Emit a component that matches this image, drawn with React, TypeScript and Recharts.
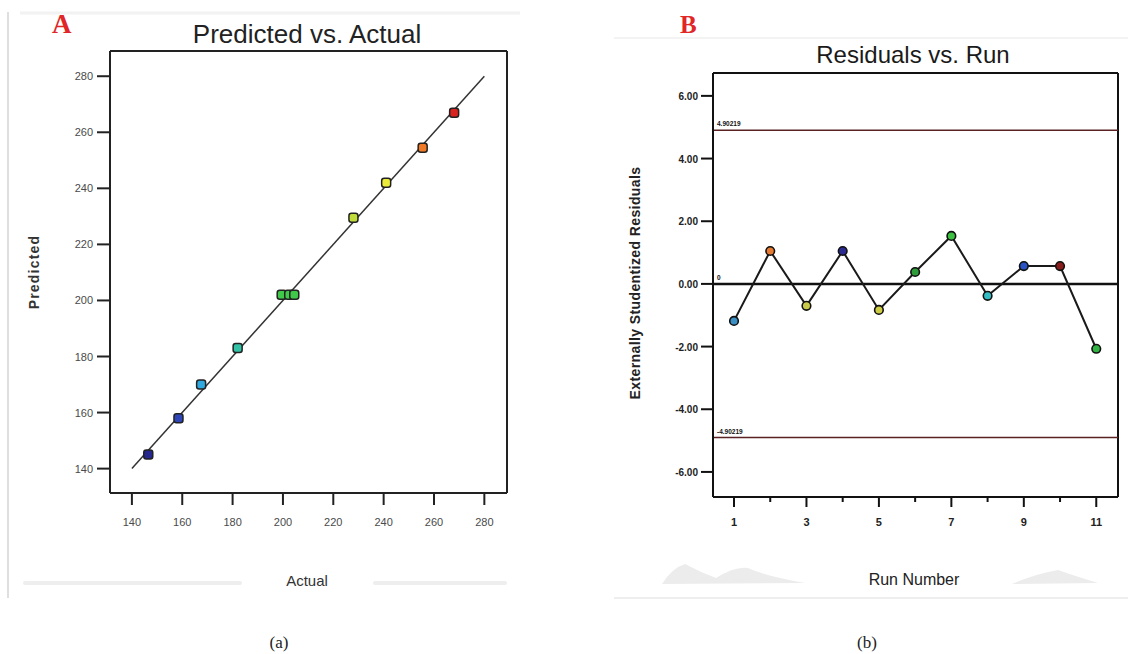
import React from 'react';
import {
  ScatterChart,
  Scatter,
  XAxis,
  YAxis,
  ReferenceLine,
  LineChart,
  Line,
  Cell,
} from 'recharts';

// ---------- Panel A data: Predicted vs. Actual ----------
const actualValues = [146.5, 158.5, 167.5, 182, 199.5, 202.5, 204.5, 228, 241, 255.5, 268];
const predictedValues = [145, 158, 170, 183, 202, 202, 202, 229.5, 242, 254.5, 267];
const axisTicksA = [140, 160, 180, 200, 220, 240, 260, 280];
const fitLineEnds = [140, 280];

// ---------- Panel B data: Residuals vs. Run ----------
const runNumbers = [1, 2, 3, 4, 5, 6, 7, 8, 9, 10, 11];
const residualValues = [-1.18, 1.05, -0.7, 1.05, -0.83, 0.38, 1.53, -0.38, 0.57, 0.57, -2.07];
const residualTicks = [-6, -4, -2, 0, 2, 4, 6];
const runTicks = [1, 2, 3, 4, 5, 6, 7, 8, 9, 10, 11];
const limitValue = 4.90219;
const limitLabels = ['4.90219', '-4.90219', '0'];

// ---------- styles ----------
const colorsA = ['#26268f', '#2e46b8', '#2fa9e0', '#33c2a6', '#3fc84a', '#3fc84a', '#3fc84a', '#bfdc3a', '#ecec3a', '#f07a26', '#d8231f'];
const colorsB = ['#3a90c4', '#e57a30', '#c9c94a', '#2a2a90', '#cccc44', '#2f9c3a', '#3cc040', '#34bcc4', '#2b52c4', '#8a1c1c', '#32b444'];

const domainA: [number, number] = [131.3, 289];
const domainBX: [number, number] = [0.42, 11.6];
const domainBY: [number, number] = [-6.8, 6.73];

const SANS = '"Liberation Sans", Arial, sans-serif';
const SERIF = '"Liberation Serif", "Times New Roman", serif';

const dataA = actualValues.map((a, i) => ({ actual: a, predicted: predictedValues[i] }));
const dataB = runNumbers.map((r, i) => ({ run: r, residual: residualValues[i] }));

const TickAX = (props: any) => {
  const { x, y, payload } = props;
  return (
    <g>
      <line x1={x} x2={x} y1={y + 1} y2={y + 12} stroke="#222" strokeWidth={2} />
      <text x={x} y={y + 33} textAnchor="middle" fontSize={11} style={{ fill: '#4a4a4a' }} fontFamily={SANS}>
        {payload.value}
      </text>
    </g>
  );
};

const TickAY = (props: any) => {
  const { x, y, payload } = props;
  return (
    <g>
      <line x1={x - 1} x2={x - 13} y1={y} y2={y} stroke="#222" strokeWidth={2} />
      <text x={x - 17} y={y + 4} textAnchor="end" fontSize={11} style={{ fill: '#4a4a4a' }} fontFamily={SANS}>
        {payload.value}
      </text>
    </g>
  );
};

const TickBX = (props: any) => {
  const { x, y, payload } = props;
  const major = payload.value % 2 === 1;
  return (
    <g>
      <line x1={x} x2={x} y1={y + 1} y2={y + (major ? 10 : 5)} stroke="#111" strokeWidth={2} />
      {major ? (
        <text x={x} y={y + 29} textAnchor="middle" fontSize={11} fontWeight="bold" style={{ fill: '#222' }} fontFamily={SANS}>
          {payload.value}
        </text>
      ) : null}
    </g>
  );
};

const TickBY = (props: any) => {
  const { x, y, payload } = props;
  return (
    <g>
      <line x1={x - 1} x2={x - 12} y1={y} y2={y} stroke="#111" strokeWidth={2} />
      <text x={x - 15} y={y + 4} textAnchor="end" fontSize={10} fontWeight="bold" style={{ fill: '#222' }} fontFamily={SANS}>
        {Number(payload.value).toFixed(2)}
      </text>
    </g>
  );
};

const squareShape = (props: any) => {
  const { cx, cy, fill } = props;
  return <rect x={cx - 4.5} y={cy - 4.5} width={9} height={9} rx={2.5} fill={fill} stroke="#222" strokeWidth={1.5} />;
};

const renderDotB = (props: any) => {
  const { cx, cy, index } = props;
  return <circle key={`d${index}`} cx={cx} cy={cy} r={4.3} fill={colorsB[index]} stroke="#111" strokeWidth={1.6} />;
};

const lineLabel = (text: string) => (props: any) => {
  const vb = props.viewBox || {};
  return (
    <text x={(vb.x || 0) + 4} y={(vb.y || 0) - 4} fontSize={6.5} fontWeight="bold" style={{ fill: '#111' }} fontFamily={SANS}>
      {text}
    </text>
  );
};

export default function App() {
  return (
    <div
      style={{
        position: 'fixed',
        left: 0,
        top: 0,
        width: 1128,
        height: 654,
        background: '#fff',
        overflow: 'hidden',
        fontFamily: SANS,
      }}
    >
      {/* Panel A */}
      <div style={{ position: 'absolute', left: 0, top: 0 }}>
        <ScatterChart width={540} height={560} margin={{ top: 51, right: 33, left: 0, bottom: 0 }}>
          <XAxis
            type="number"
            dataKey="actual"
            domain={domainA}
            ticks={axisTicksA}
            allowDataOverflow
            height={67}
            tickSize={0}
            tickMargin={0}
            tickLine={false}
            axisLine={{ stroke: '#222', strokeWidth: 2 }}
            tick={<TickAX />}
          />
          <YAxis
            type="number"
            dataKey="predicted"
            domain={domainA}
            ticks={axisTicksA}
            allowDataOverflow
            width={110}
            tickSize={0}
            tickMargin={0}
            tickLine={false}
            axisLine={{ stroke: '#222', strokeWidth: 2 }}
            tick={<TickAY />}
          />
          {/* box: top and right edges */}
          <ReferenceLine y={domainA[1]} stroke="#222" strokeWidth={2} ifOverflow="visible" />
          <ReferenceLine x={domainA[1]} stroke="#222" strokeWidth={2} ifOverflow="visible" />
          <ReferenceLine
            segment={[
              { x: fitLineEnds[0], y: fitLineEnds[0] },
              { x: fitLineEnds[1], y: fitLineEnds[1] },
            ]}
            stroke="#333"
            strokeWidth={1.5}
          />
          <Scatter data={dataA} isAnimationActive={false} shape={squareShape}>
            {dataA.map((_, i) => (
              <Cell key={i} fill={colorsA[i]} />
            ))}
          </Scatter>
        </ScatterChart>
      </div>

      {/* Panel B */}
      <div style={{ position: 'absolute', left: 600, top: 0 }}>
        <LineChart width={528} height={560} data={dataB} margin={{ top: 73, right: 10, left: 0, bottom: 0 }}>
          <XAxis
            type="number"
            dataKey="run"
            domain={domainBX}
            ticks={runTicks}
            allowDataOverflow
            height={63}
            tickSize={0}
            tickMargin={0}
            tickLine={false}
            axisLine={{ stroke: '#111', strokeWidth: 2 }}
            tick={<TickBX />}
            interval={0}
          />
          <YAxis
            type="number"
            domain={domainBY}
            ticks={residualTicks}
            allowDataOverflow
            width={113}
            tickSize={0}
            tickMargin={0}
            tickLine={false}
            axisLine={{ stroke: '#111', strokeWidth: 2 }}
            tick={<TickBY />}
            interval={0}
          />
          {/* box: top and right edges */}
          <ReferenceLine y={domainBY[1]} stroke="#111" strokeWidth={2} ifOverflow="visible" />
          <ReferenceLine x={domainBX[1]} stroke="#111" strokeWidth={2} ifOverflow="visible" />
          <ReferenceLine y={limitValue} stroke="#5a2222" strokeWidth={1.6} label={lineLabel(limitLabels[0])} />
          <ReferenceLine y={-limitValue} stroke="#5a2222" strokeWidth={1.6} label={lineLabel(limitLabels[1])} />
          <ReferenceLine y={0} stroke="#111" strokeWidth={2.5} label={lineLabel(limitLabels[2])} />
          <Line
            type="linear"
            dataKey="residual"
            stroke="#1a1a1a"
            strokeWidth={2}
            dot={renderDotB}
            activeDot={false}
            isAnimationActive={false}
          />
        </LineChart>
      </div>

      {/* Annotations */}
      <svg
        width={1128}
        height={654}
        style={{ position: 'absolute', left: 0, top: 0, pointerEvents: 'none' }}
      >
        {/* frames */}
        <line x1={8} x2={8} y1={12} y2={598} stroke="#d4d4d4" strokeWidth={1.5} />
        <line x1={20} x2={520} y1={13} y2={13} stroke="#f2f2f2" strokeWidth={3} />
        <line x1={25} x2={240} y1={583} y2={583} stroke="#eeeeee" strokeWidth={4} strokeLinecap="round" />
        <line x1={375} x2={505} y1={583} y2={583} stroke="#eeeeee" strokeWidth={4} strokeLinecap="round" />
        <line x1={614} x2={1128} y1={38} y2={38} stroke="#efefef" strokeWidth={1.5} />
        <line x1={614} x2={1128} y1={598} y2={598} stroke="#e8e8e8" strokeWidth={1.5} />
        <path d="M662,584 Q672,568 685,564 Q700,572 716,578 Q735,566 748,568 Q765,576 805,583 Z" fill="#ececec" />
        <path d="M1012,584 Q1035,574 1058,570 Q1075,576 1098,583 Z" fill="#ececec" />

        {/* panel letters */}
        <text x={52} y={33} fontSize={27} fontWeight="bold" fill="#e02626" fontFamily={SERIF}>A</text>
        <text x={680} y={33} fontSize={25} fontWeight="bold" fill="#e02626" fontFamily={SERIF}>B</text>

        {/* titles */}
        <text x={307} y={43} textAnchor="middle" fontSize={26} fill="#222" fontFamily={SANS}>Predicted vs. Actual</text>
        <text x={913} y={63} textAnchor="middle" fontSize={24} fill="#1a1a1a" fontFamily={SANS}>Residuals vs. Run</text>

        {/* axis labels */}
        <text
          x={39}
          y={272}
          transform="rotate(-90 39 272)"
          textAnchor="middle"
          fontSize={14}
          fontWeight="bold"
          letterSpacing={1.2}
          fill="#333"
          fontFamily={SANS}
        >
          Predicted
        </text>
        <text x={307} y={586} textAnchor="middle" fontSize={15} fill="#333" fontFamily={SANS}>Actual</text>
        <text
          x={640}
          y={283}
          transform="rotate(-90 640 283)"
          textAnchor="middle"
          fontSize={14}
          fontWeight="bold"
          letterSpacing={0.4}
          fill="#222"
          fontFamily={SANS}
        >
          Externally Studentized Residuals
        </text>
        <text x={914} y={585} textAnchor="middle" fontSize={16} fill="#222" fontFamily={SANS}>Run Number</text>

        {/* captions */}
        <text x={279} y={648} textAnchor="middle" fontSize={17} fill="#222" fontFamily={SERIF}>(a)</text>
        <text x={867} y={648} textAnchor="middle" fontSize={17} fill="#222" fontFamily={SERIF}>(b)</text>
      </svg>
    </div>
  );
}
